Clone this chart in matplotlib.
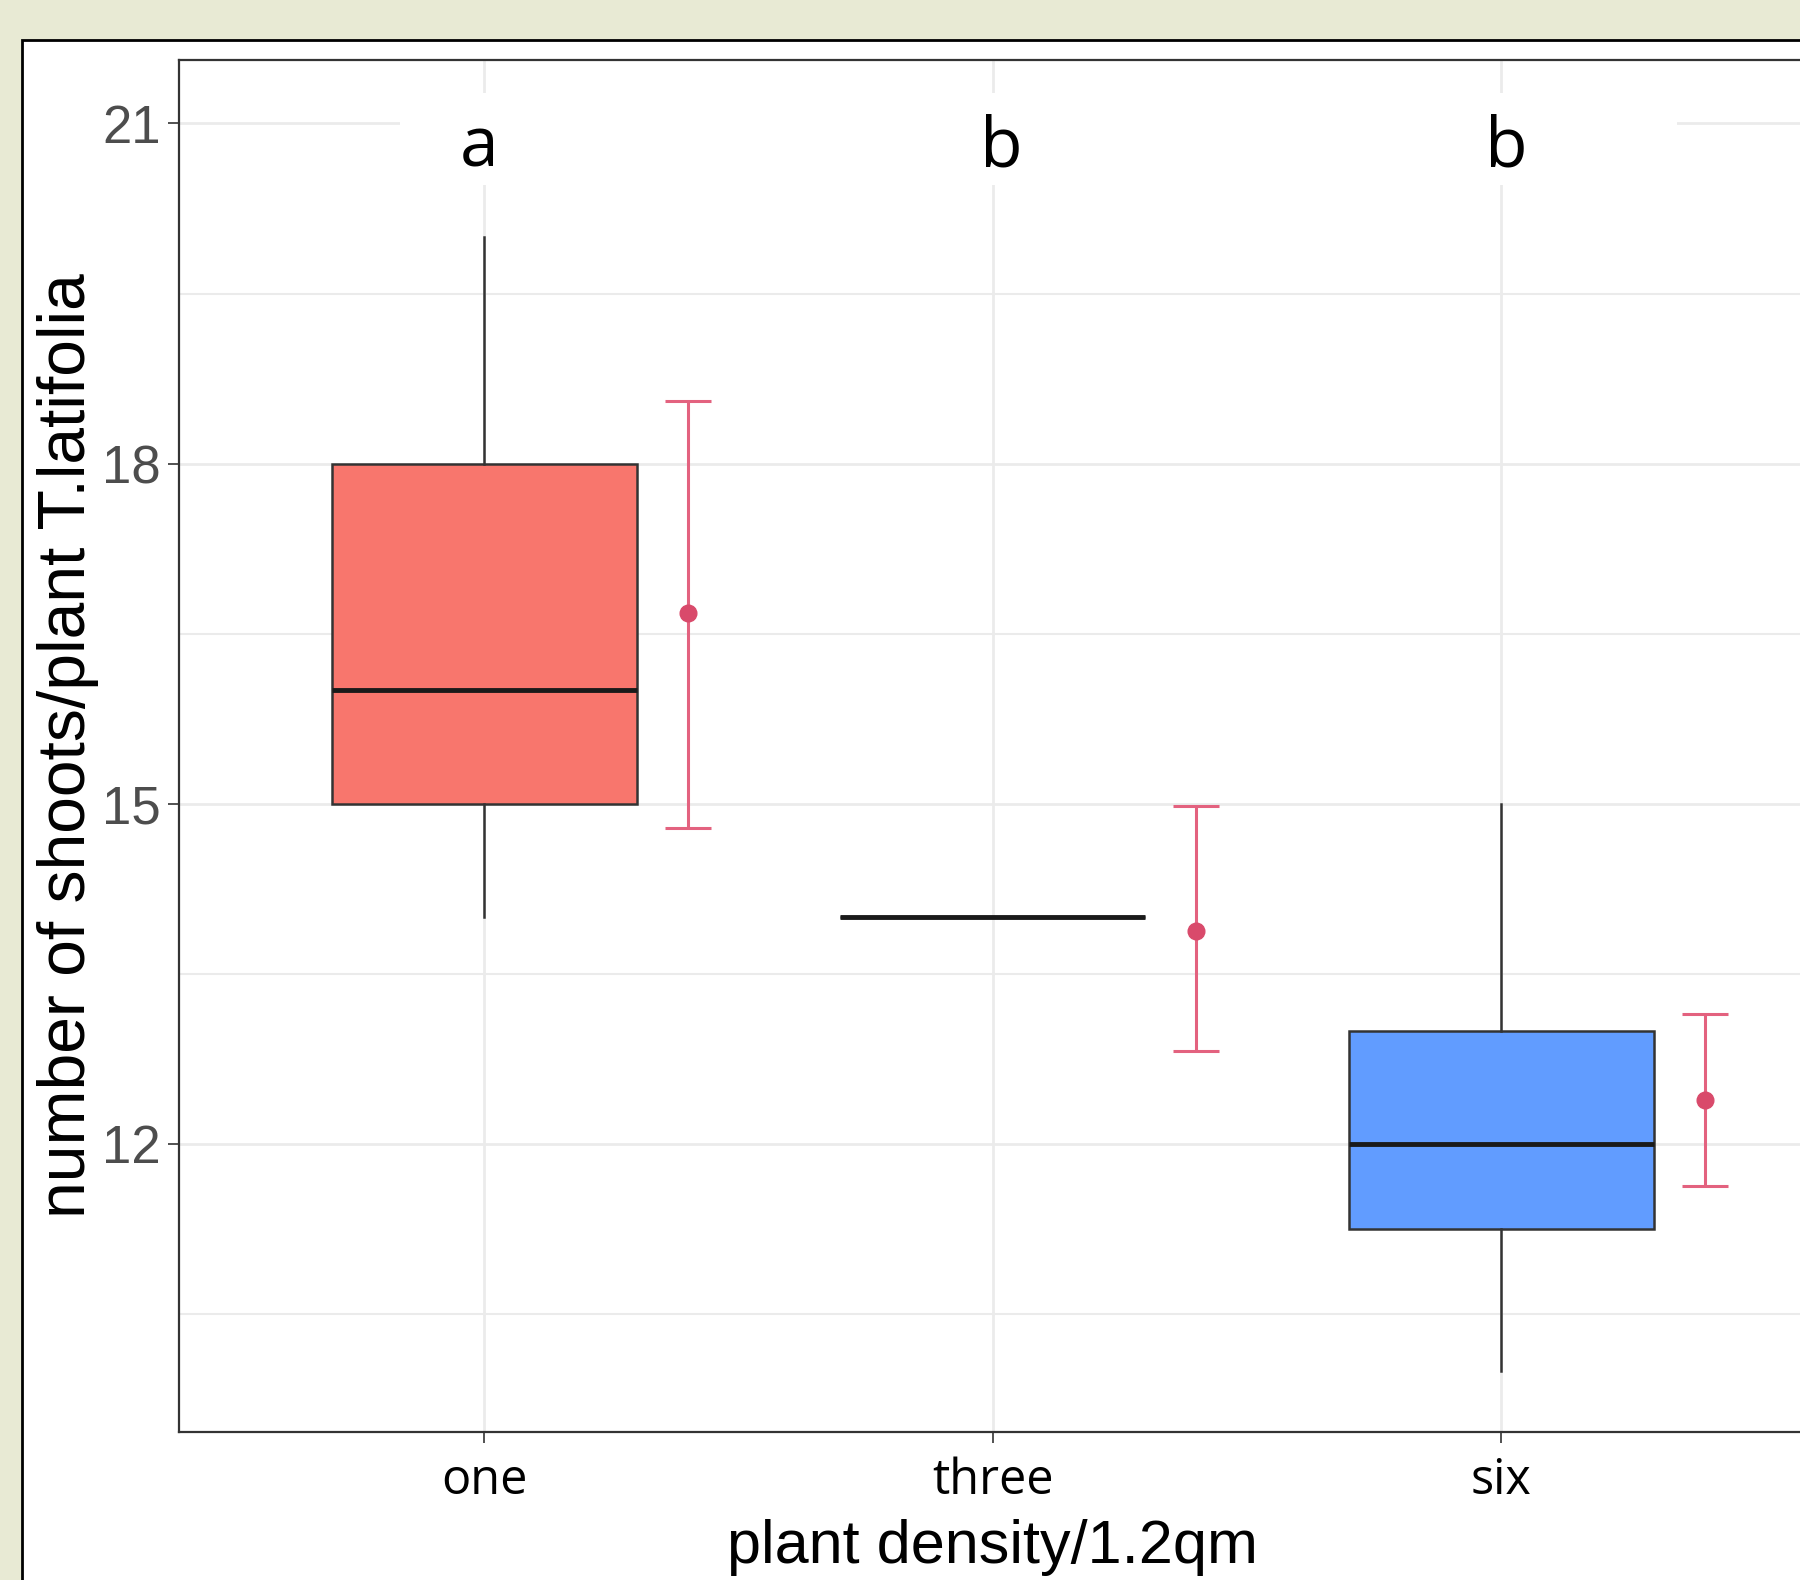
import matplotlib.pyplot as plt
from matplotlib.patches import Rectangle

# plant density groups
groups = ['one', 'three', 'six']
box_colors = ['#F8766D', '#00BA38', '#619CFF']

# boxplot summaries (shoots per plant)
whis_lo = [14, 14, 10]
q1 = [15, 14, 11.25]
medians = [16, 14, 12]
q3 = [18, 14, 13]
whis_hi = [20, 14, 15]

# mean with error bars
means = [16.68, 13.88, 12.39]
err_lo = [14.79, 12.82, 11.63]
err_hi = [18.55, 14.98, 13.15]

letters = ['a', 'b', 'b']
letter_x = [0.99, 2.016, 3.009]

yticks = [12, 15, 18, 21]
yminor = [10.5, 13.5, 16.5, 19.5]

fig = plt.figure(figsize=(18, 15.8), dpi=100)
fig.patch.set_facecolor('#E8EAD4')

# white slide panel behind the chart
fig.patches.append(Rectangle((22 / 1800, -0.05), 1.1, 1 - 40 / 1580 + 0.05,
                             transform=fig.transFigure, facecolor='white',
                             edgecolor='black', linewidth=2, zorder=-10))

ax = fig.add_axes([179 / 1800, 1 - 1432 / 1580, 1627.5 / 1800, 1372 / 1580])
ax.set_facecolor('white')

pos = [1, 2, 3]
stats = []
for i in range(3):
    stats.append(dict(med=medians[i], q1=q1[i], q3=q3[i], whislo=whis_lo[i],
                      whishi=whis_hi[i], fliers=[]))
bp = ax.bxp(stats, positions=pos, widths=0.6, patch_artist=True,
            showcaps=False, showfliers=False,
            boxprops=dict(edgecolor='#333333', linewidth=1.8),
            whiskerprops=dict(color='#333333', linewidth=1.8),
            medianprops=dict(color='#1A1A1A', linewidth=3.5))
for patch, c in zip(bp['boxes'], box_colors):
    patch.set_facecolor(c)
for w in bp['whiskers']:
    w.set_zorder(3)
for b in bp['boxes']:
    b.set_zorder(3)
for m in bp['medians']:
    m.set_zorder(4)

# mean +/- error, shifted to the right of each box
ex = [p + 0.4 for p in pos]
yerr = [[m - lo for m, lo in zip(means, err_lo)],
        [hi - m for m, hi in zip(means, err_hi)]]
ax.errorbar(ex, means, yerr=yerr, fmt='o', color='#E3627F', ecolor='#E3627F',
            elinewidth=2.2, capsize=16.5, capthick=2.2, markersize=12,
            markerfacecolor='#D94A6B', markeredgecolor='#D94A6B', zorder=5)

ax.set_xlim(0.4, 3.6)
ax.set_ylim(9.46, 21.56)
ax.set_xticks(pos)
ax.set_xticklabels(groups, fontsize=35, family='Open Sans', color='black')
ax.set_yticks(yticks)
ax.set_yticks(yminor, minor=True)
ax.set_yticklabels([str(t) for t in yticks], fontsize=38,
                   family='Liberation Sans', color='#4D4D4D')
ax.tick_params(axis='both', which='major', length=8, width=1.2, color='#333333')
ax.tick_params(axis='y', which='major', pad=5)
ax.tick_params(axis='x', which='major', pad=10)
ax.tick_params(axis='y', which='minor', length=0)

ax.grid(True, which='major', color='#EBEBEB', linewidth=2)
ax.grid(True, which='minor', axis='y', color='#EBEBEB', linewidth=1.5)
ax.set_axisbelow(True)
for s in ax.spines.values():
    s.set_color('#333333')
    s.set_linewidth(1.6)

ax.set_xlabel('plant density/1.2qm', fontsize=44, family='Liberation Sans',
              color='black', labelpad=9)
ax.set_ylabel('number of shoots/plant T.latifolia', fontsize=47.5,
              family='Liberation Sans', color='black', labelpad=2)

# white text box with significance letters
ax.add_patch(Rectangle((0.835, 20.46), 3.345 - 0.835, 21.27 - 20.46,
                       facecolor='white', edgecolor='none', zorder=2))
for x, l in zip(letter_x, letters):
    ax.text(x, 20.62, l, ha='center', va='baseline', fontsize=50,
            family='Open Sans', color='black', zorder=6)

plt.savefig('out.png', dpi=100)
